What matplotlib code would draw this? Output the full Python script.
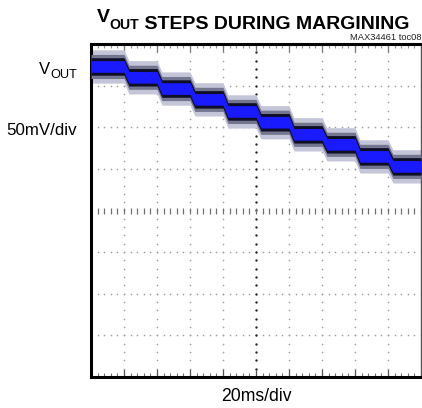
import numpy as np
import matplotlib
matplotlib.use('Agg')
import matplotlib.pyplot as plt

# Scope screen: 10 horizontal divisions (20ms/div), 8 vertical (50mV/div)
N_XDIV = 10
N_YDIV = 8

# VOUT level of each margining step, in divisions above screen centre
STEP_LEVELS = [3.46, 3.20, 2.93, 2.67, 2.38, 2.12, 1.83, 1.59, 1.30, 1.06]
# step boundaries (divisions)
STEP_EDGES = [0, 1, 2, 3, 4, 5, 6, 7, 8, 9, 10]

# trace band half-widths (divisions) and colours, outermost first
BAND_WIDTHS = [0.40, 0.29, 0.21, 0.14]
BAND_COLORS = ['#c4c5d8', '#74768f', '#0e0e26', '#1a1aff']

TITLE_MAIN = " STEPS DURING MARGINING"
NOTE = "MAX34461 toc08"
Y_LABEL = "50mV/div"
X_LABEL = "20ms/div"

plt.rcParams['font.family'] = ['Liberation Sans', 'DejaVu Sans']

W, H = 422, 408
fig = plt.figure(figsize=(W / 100, H / 100), dpi=100)
ax = fig.add_axes([91 / W, (H - 377) / H, 330 / W, 333 / H])
ax.set_xlim(0, N_XDIV)
ax.set_ylim(-N_YDIV / 2, N_YDIV / 2)
ax.set_xticks([])
ax.set_yticks([])
for side in ['left', 'bottom', 'top']:
    ax.spines[side].set_linewidth(2.2)
ax.spines['right'].set_linewidth(1.0)
ax.spines['right'].set_color('#555555')

# ---- graticule ----
sub = np.arange(0, N_XDIV + 0.01, 0.2)
suby = np.arange(-N_YDIV / 2, N_YDIV / 2 + 0.01, 0.2)
dot = dict(linestyle='none', marker='o', markersize=1.2, markeredgewidth=0,
           color='#a0a0a0', zorder=1)
for k in range(1, N_XDIV):
    if k == N_XDIV // 2:
        continue
    ax.plot(np.full_like(suby, k), suby, **dot)
for j in range(-N_YDIV // 2 + 1, N_YDIV // 2):
    if j == 0:
        continue
    ax.plot(sub, np.full_like(sub, j), **dot)
# centre lines
ax.plot(np.full_like(suby, N_XDIV / 2), suby, linestyle='none', marker='o',
        markersize=1.7, markeredgewidth=0, color='#222222', zorder=1)
ax.plot(sub, np.zeros_like(sub), linestyle='none', marker='|', markersize=4,
        markeredgewidth=0.9, color='#707070', zorder=1)
# ticks along the frame edges
ax.plot(sub, np.full_like(sub, -N_YDIV / 2 + 0.05), linestyle='none', marker='|',
        markersize=3, markeredgewidth=0.8, color='#707070', zorder=1)
ax.plot(sub, np.full_like(sub, N_YDIV / 2 - 0.05), linestyle='none', marker='|',
        markersize=3, markeredgewidth=0.8, color='#909090', zorder=1)
for k in range(1, N_XDIV):
    ax.plot([k, k], [-N_YDIV / 2, -N_YDIV / 2 + 0.18], color='#555555', lw=0.9, zorder=1)
    ax.plot([k, k], [N_YDIV / 2, N_YDIV / 2 - 0.18], color='#777777', lw=0.9, zorder=1)

# ---- stepped VOUT trace ----
ramp = 0.15
tx, ty = [], []
for i, lvl in enumerate(STEP_LEVELS):
    x0 = STEP_EDGES[i] + (ramp if i > 0 else 0)
    x1 = STEP_EDGES[i + 1]
    tx += [x0, x1]
    ty += [lvl, lvl]
tx = np.array(tx)
ty = np.array(ty)
for z, (hw, col) in enumerate(zip(BAND_WIDTHS, BAND_COLORS)):
    ax.fill_between(tx, ty - hw, ty + hw, color=col, lw=0, zorder=2 + z)

# ---- texts ----
renderer = fig.canvas.get_renderer()


def fit(texts, left_px, right_px, boost=1.0):
    """Scale font sizes of a run of texts so it spans left_px..right_px
    (boost > 1 makes up for the reference's condensed face)."""
    bbs = [t.get_window_extent(renderer) for t in texts]
    w = max(b.x1 for b in bbs) - min(b.x0 for b in bbs)
    r = boost * (right_px - left_px) / w
    for t in texts:
        t.set_fontsize(t.get_fontsize() * r)


tfs = 17
t1 = fig.text(0.5, 1 - 22 / H, "V", fontsize=tfs, fontweight='bold',
              ha='left', va='baseline')
t2 = ax.annotate("OUT", xy=(1, 0), xycoords=t1, xytext=(0, -2.5),
                 textcoords='offset points', fontsize=tfs * 0.72,
                 fontweight='bold', ha='left', va='baseline')
t3 = ax.annotate(TITLE_MAIN, xy=(1, 0), xycoords=t2, xytext=(0, 2.5),
                 textcoords='offset points', fontsize=tfs, fontweight='bold',
                 ha='left', va='baseline')
fit([t1, t2, t3], 110, 395, boost=1.1)
# re-centre the title run on x = 253 px
bbs = [t.get_window_extent(renderer) for t in (t1, t2, t3)]
run_w = max(b.x1 for b in bbs) - min(b.x0 for b in bbs)
t1.set_x((253 - run_w / 2) / W)

n = fig.text(421 / W, 1 - 40 / H, NOTE, fontsize=7, ha='right', va='baseline',
             color='#222222')
fit([n], 349, 421)

l1 = fig.text(0.1, 1 - 74 / H, "V", fontsize=13, ha='left', va='baseline')
l2 = ax.annotate("OUT", xy=(1, 0), xycoords=l1, xytext=(0, -0.5),
                 textcoords='offset points', fontsize=10, ha='left', va='baseline')
fit([l1, l2], 43, 77, boost=1.12)
bbs = [t.get_window_extent(renderer) for t in (l1, l2)]
run_w = max(b.x1 for b in bbs) - min(b.x0 for b in bbs)
l1.set_x((77 - run_w) / W)

yl = fig.text(77 / W, 1 - 135 / H, Y_LABEL, fontsize=13, ha='right', va='baseline')
fit([yl], 14, 77, boost=1.12)
xl = fig.text(256 / W, 1 - 401 / H, X_LABEL, fontsize=13, ha='center', va='baseline')
fit([xl], 225, 288, boost=1.12)

fig.savefig('out.png', dpi=100)
